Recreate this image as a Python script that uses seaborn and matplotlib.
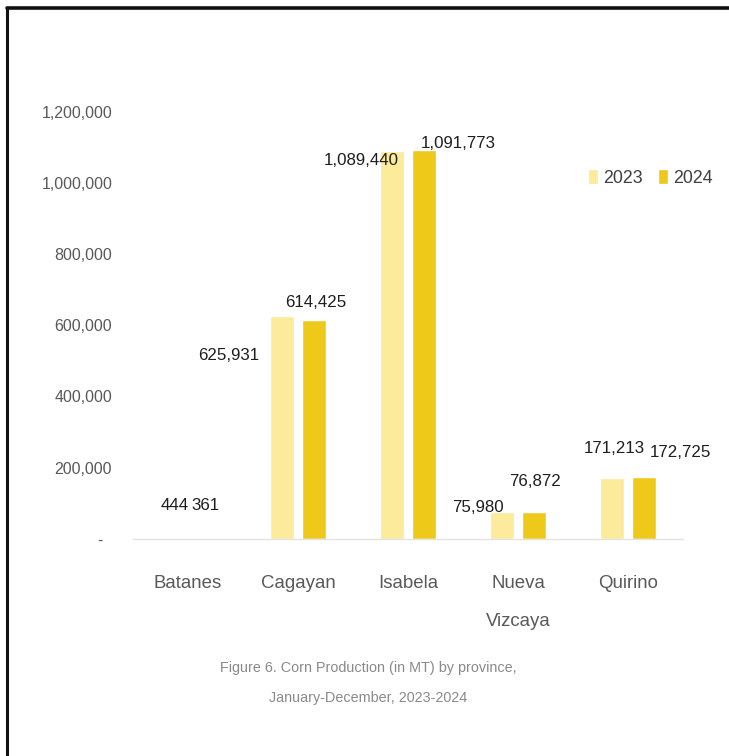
import matplotlib
matplotlib.use("Agg")
import matplotlib.pyplot as plt
from matplotlib.lines import Line2D
import seaborn as sns
import pandas as pd

# Corn production (MT) by province
provinces = ["Batanes", "Cagayan", "Isabela", "Nueva\nVizcaya", "Quirino"]
years = ["2023", "2024"]
prod_2023 = [444, 625931, 1089440, 75980, 171213]
prod_2024 = [361, 614425, 1091773, 76872, 172725]
y_ticks = [0, 200000, 400000, 600000, 800000, 1000000, 1200000]
caption = "Figure 6. Corn Production (in MT) by province,\nJanuary-December, 2023-2024"

# label offsets (pixels, right / up) from the top centre of each bar
label_offsets = {
    "2023": [(3, 33), (-53, -39), (-31, -10), (-24, 4), (2, 30)],
    "2024": [(2, 33), (2, 18), (34, 7), (1, 30), (36, 25)],
}

sns.set_theme(style="white")
plt.rcParams["font.family"] = ["Liberation Sans", "DejaVu Sans"]

df = pd.DataFrame({
    "Province": provinces * 2,
    "Year": [years[0]] * len(provinces) + [years[1]] * len(provinces),
    "Production": prod_2023 + prod_2024,
})

W, H = 729, 756
fig = plt.figure(figsize=(W / 100, H / 100), dpi=100)
ax = fig.add_axes([133 / W, (H - 539) / H, 550 / W, 427.5 / H])

palette = {"2023": "#FBEB9A", "2024": "#EFC91A"}
sns.barplot(data=df, x="Province", y="Production", hue="Year", palette=palette,
            width=0.58, gap=0.22, ax=ax, saturation=1, legend=True)

ax.set_ylim(0, 1200000)
ax.set_xlim(-0.5, len(provinces) - 0.5)
ax.set_yticks(y_ticks)
ax.set_yticklabels(["-  "] + [f"{v:,}" for v in y_ticks[1:]])
ax.tick_params(axis="y", labelsize=11.5, labelcolor="#595959", length=0, pad=15)
ax.tick_params(axis="x", labelsize=13.4, labelcolor="#595959", length=0, pad=26)
for lbl in ax.get_xticklabels():
    lbl.set_verticalalignment("top")
    lbl.set_linespacing(2.6)
ax.set_xlabel("")
ax.set_ylabel("")
for side in ["top", "right", "left"]:
    ax.spines[side].set_visible(False)
ax.spines["bottom"].set_color("#E3E3E3")
ax.spines["bottom"].set_linewidth(1.0)

# value labels
values = {"2023": prod_2023, "2024": prod_2024}
for container, year in zip(ax.containers, years):
    for bar, val, (dx, dy) in zip(container, values[year], label_offsets[year]):
        x = bar.get_x() + bar.get_width() / 2
        text = f"{val:,}" if val >= 1000 else f"{val}"
        ax.annotate(text, (x, bar.get_height()), xytext=(dx * 0.72, dy * 0.72),
                    textcoords="offset points", ha="center", va="center",
                    fontsize=12.2, color="#1E1E1E", annotation_clip=False)

leg = ax.legend(loc="center left", frameon=False, ncol=2, fontsize=12.8,
                handlelength=0.57, handleheight=0.86, handletextpad=0.29,
                columnspacing=0.86, borderpad=0, borderaxespad=0,
                labelcolor="#404040")
leg.set_bbox_to_anchor((588 / W, 1 - 178 / H), transform=fig.transFigure)

fig.text(368 / W, 1 - 683 / H, caption, ha="center", va="center", fontsize=10.4,
         color="#8A8A8A", linespacing=2.5)

# page frame
fig.add_artist(Line2D([7 / W, 7 / W], [0, 1 - 8 / H], color="#111111",
                      linewidth=2.2, transform=fig.transFigure))
fig.add_artist(Line2D([7 / W, 1], [1 - 8 / H, 1 - 8 / H], color="#111111",
                      linewidth=2.6, transform=fig.transFigure))

fig.savefig("out.png", dpi=100, facecolor="white")
